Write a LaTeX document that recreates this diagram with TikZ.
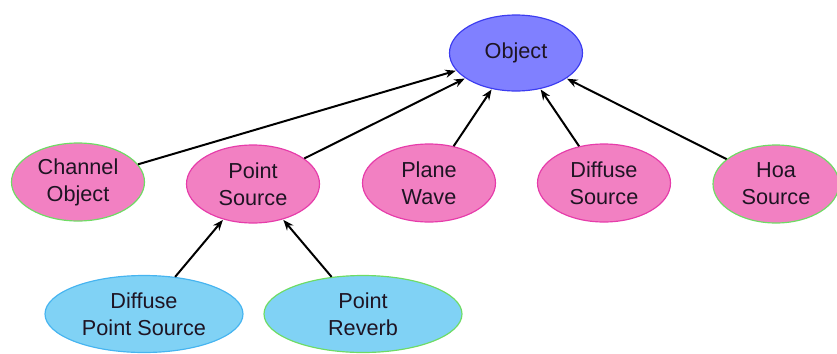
\documentclass[tikz,border=0pt]{standalone}
\usepackage{fontspec}
\setmainfont{Liberation Sans}
\usetikzlibrary{shapes.geometric,arrows.meta}
\definecolor{pinkfill}{RGB}{242,128,194}
\definecolor{bluefill}{RGB}{128,128,255}
\definecolor{lbluefill}{RGB}{128,210,245}
\definecolor{greenline}{RGB}{110,220,100}
\definecolor{magline}{RGB}{230,60,170}
\definecolor{blueline}{RGB}{60,60,240}
\definecolor{lblueline}{RGB}{70,180,240}
\definecolor{txt}{RGB}{30,20,35}
\tikzset{
  ell/.style={ellipse, inner sep=0pt, line width=1pt, text=txt,
    font=\fontsize{18.5}{23}\selectfont, align=center},
  top/.style={ell, fill=bluefill, draw=blueline, minimum width=133*0.03cm, minimum height=76*0.03cm},
  mid/.style={ell, fill=pinkfill, minimum width=133*0.03cm, minimum height=78*0.03cm},
  low/.style={ell, fill=lbluefill, minimum width=198*0.03cm, minimum height=77*0.03cm},
  conn/.style={line width=1.7pt, -{Stealth[length=9pt,width=7pt]}, shorten >=0.5pt}
}
\begin{document}
\begin{tikzpicture}[x=0.03cm,y=-0.03cm]
\useasboundingbox (0,0) rectangle (837,353);
\node[top] (obj) at (516,53) {Object};
\node[mid, draw=greenline] (chan) at (78,182) {Channel\\Object};
\node[mid, draw=magline] (ps) at (253,184) {Point\\Source};
\node[mid, draw=magline] (pw) at (429,183) {Plane\\Wave};
\node[mid, draw=magline] (ds) at (604,183) {Diffuse\\Source};
\node[mid, draw=greenline, minimum width=126*0.03cm] (hoa) at (776,184) {Hoa\\Source};
\node[low, draw=lblueline] (dps) at (144,314) {Diffuse\\Point Source};
\node[low, draw=greenline] (pr) at (363,314) {Point\\Reverb};
\draw[conn] (chan) -- (obj);
\draw[conn] (ps) -- (obj);
\draw[conn] (pw) -- (obj);
\draw[conn] (ds) -- (obj);
\draw[conn] (hoa) -- (obj);
\draw[conn] (dps) -- (ps);
\draw[conn] (pr) -- (ps);
\end{tikzpicture}
\end{document}
